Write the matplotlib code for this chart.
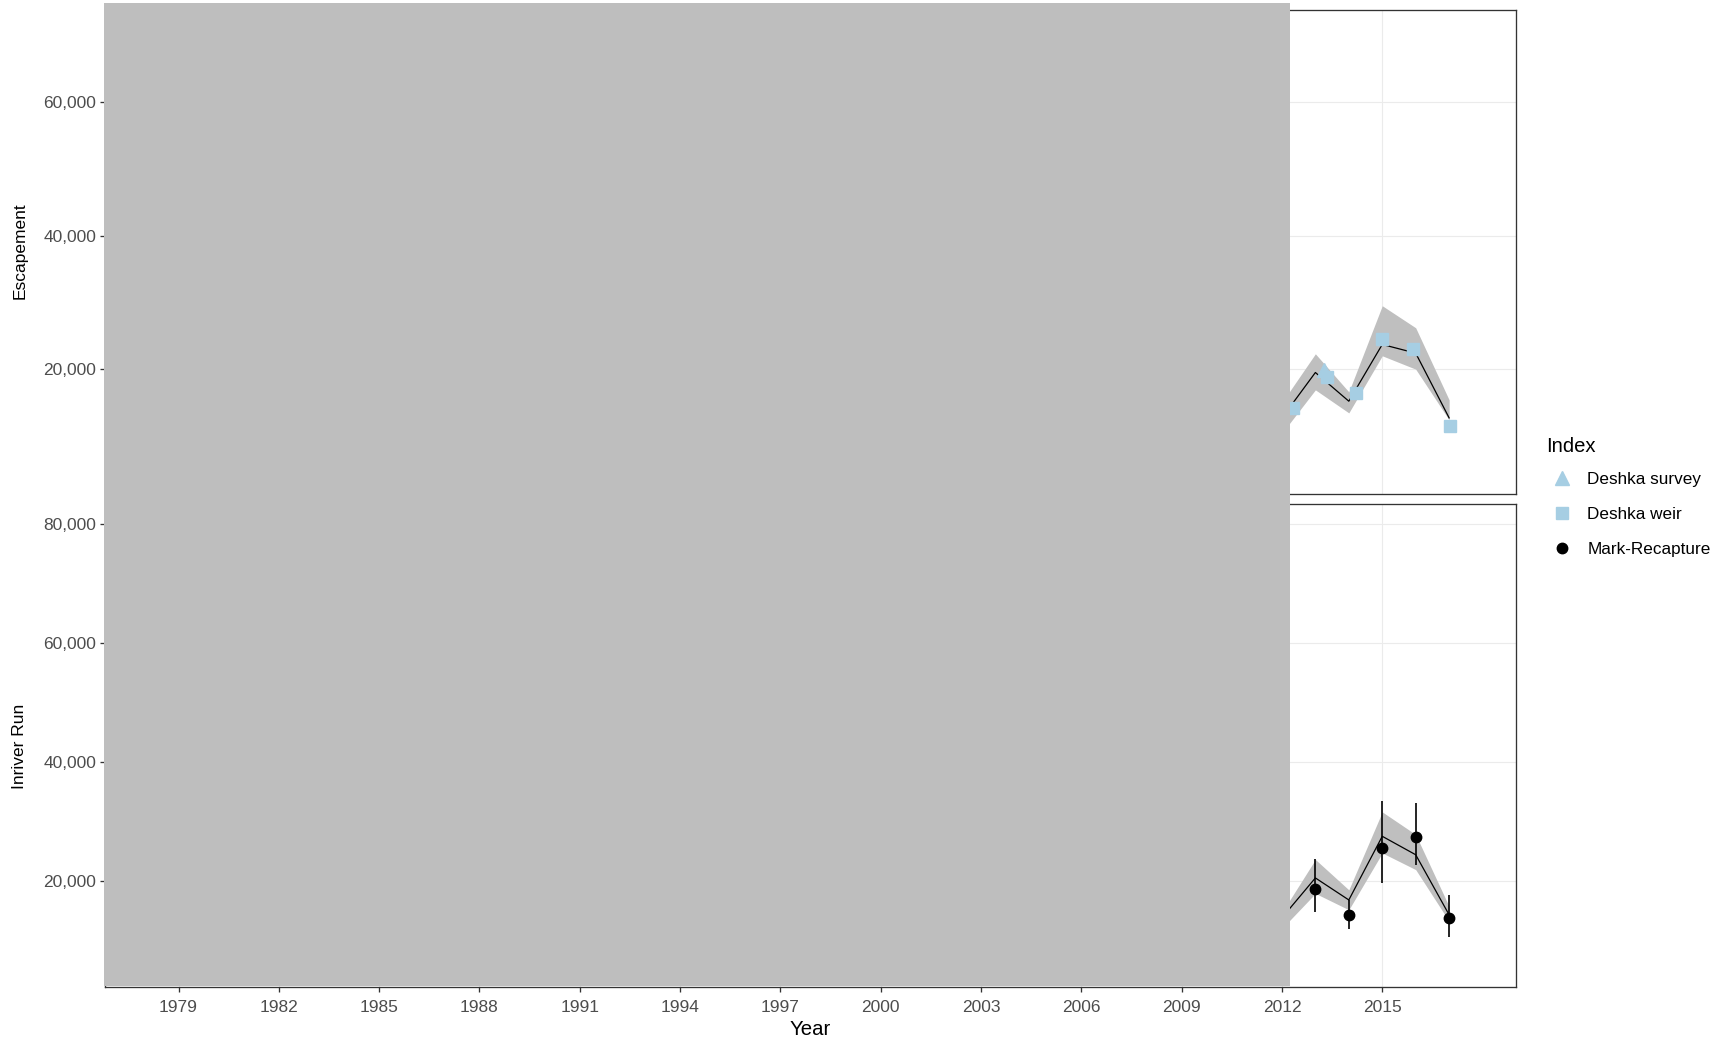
import numpy as np
import matplotlib.pyplot as plt
from matplotlib.lines import Line2D
from matplotlib.patches import Rectangle
from matplotlib.ticker import FuncFormatter

plt.rcParams['font.family'] = ['Liberation Sans', 'DejaVu Sans']

# model fit years (earlier years sit under the grey block)
years = [2012, 2013, 2014, 2015, 2016, 2017]

# escapement model fit and 95% band
esc_fit = [12700, 19500, 15200, 23700, 22400, 12700]
esc_lo = [10400, 16900, 13450, 22000, 20000, 12400]
esc_hi = [15000, 22300, 16600, 29500, 26200, 15400]

# escapement indices (x jittered as in the picture)
weir_x = [2012.33, 2013.34, 2014.21, 2014.98, 2015.91, 2017.04]
weir_y = [14150, 18800, 16400, 24500, 23000, 11500]
survey_x = [2013.25]
survey_y = [19800]

# inriver run model fit and band
run_fit = [13800, 20500, 16800, 27500, 24400, 14300]
run_lo = [12000, 17900, 15150, 24700, 21900, 13200]
run_hi = [14700, 23600, 18500, 31600, 27800, 15700]

# mark-recapture estimates
mr_years = [2013, 2014, 2015, 2016, 2017]
mr_est = [18700, 14200, 25600, 27300, 13700]
mr_lo = [14700, 12000, 19600, 22700, 10600]
mr_hi = [23600, 16800, 33500, 33100, 17600]

xticks = list(range(1979, 2016, 3))
esc_ticks = [20000, 40000, 60000]
run_ticks = [20000, 40000, 60000, 80000]

BLUE = '#A6CEE3'
RIB = '#BFBFBF'
DARK = '#333333'

W, H = 1733, 1042
fig = plt.figure(figsize=(W / 100, H / 100), dpi=100)
ax1 = fig.add_axes([105 / W, 1 - 494 / H, 1411 / W, 484 / H])
ax2 = fig.add_axes([105 / W, 1 - 987 / H, 1411 / W, 483 / H])

comma = FuncFormatter(lambda v, p: f'{int(v):,}')

for ax in (ax1, ax2):
    ax.set_xlim(1976.8, 2019.0)
    ax.set_xticks(xticks)
    ax.grid(True, color='#EBEBEB', lw=0.8, zorder=0)
    ax.set_axisbelow(True)
    for s in ax.spines.values():
        s.set_color(DARK)
        s.set_linewidth(0.95)
    ax.tick_params(colors=DARK, labelcolor='#4D4D4D', labelsize=12.5,
                   length=3.4, width=0.95)
    ax.tick_params(axis='y', pad=3)
    ax.tick_params(axis='x', pad=5.6)
    ax.yaxis.set_major_formatter(comma)

ax1.tick_params(axis='x', bottom=False, labelbottom=False)

# escapement panel
ax1.set_ylim(1300, 73800)
ax1.set_yticks(esc_ticks)
ax1.fill_between(years, esc_lo, esc_hi, color=RIB, lw=0, zorder=2)
ax1.plot(years, esc_fit, color='black', lw=0.9, zorder=3)
h_survey, = ax1.plot(survey_x, survey_y, ls='none', marker='^', ms=10.5,
                     color=BLUE, zorder=4)
h_weir, = ax1.plot(weir_x, weir_y, ls='none', marker='s', ms=9.2,
                   color=BLUE, zorder=5)

# inriver run panel
ax2.set_ylim(2170, 83350)
ax2.set_yticks(run_ticks)
ax2.fill_between(years, run_lo, run_hi, color=RIB, lw=0, zorder=2)
ax2.plot(years, run_fit, color='black', lw=0.9, zorder=3)
ax2.vlines(mr_years, mr_lo, mr_hi, color='black', lw=1.2, zorder=4)
h_mr, = ax2.plot(mr_years, mr_est, ls='none', marker='o', ms=7.5,
                 color='black', zorder=5)

fig.text(20 / W, 1 - 251 / H, 'Escapement', rotation=90, ha='center',
         va='center', fontsize=12.5)
fig.text(20 / W, 1 - 746 / H, 'Inriver Run', rotation=90, ha='center',
         va='center', fontsize=12.5)
ax2.set_xlabel('Year', fontsize=14.7, labelpad=4.3)

# grey block over the early years
fig.add_artist(Rectangle((104 / W, 1 - 986 / H), 1186 / W, 982.7 / H,
                         transform=fig.transFigure, facecolor='#BEBEBE',
                         edgecolor='none', zorder=10))

# legend
fig.text(1546 / W, 1 - 446 / H, 'Index', ha='left', va='center', fontsize=14.6)
handles = [
    Line2D([], [], ls='none', marker='^', ms=10.5, color=BLUE),
    Line2D([], [], ls='none', marker='s', ms=9.0, color=BLUE),
    Line2D([], [], ls='none', marker='o', ms=7.5, color='black'),
]
fig.legend(handles, ['Deshka survey', 'Deshka weir', 'Mark-Recapture'],
           loc='upper left', bbox_to_anchor=(1548 / W, 1 - 466.5 / H),
           frameon=False, fontsize=12.3, handlelength=1.0, handletextpad=1.0,
           labelspacing=1.17, borderpad=0.3, borderaxespad=0)

fig.savefig('out.png', dpi=100)
